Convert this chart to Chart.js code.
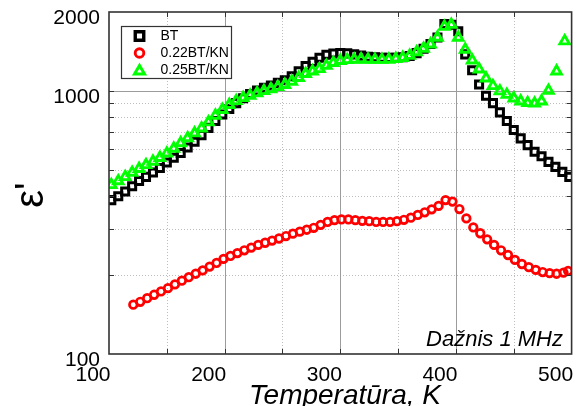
<!DOCTYPE html>
<html>
<head>
<meta charset="utf-8">
<script src="https://cdn.jsdelivr.net/npm/chart.js@4.4.1/dist/chart.umd.min.js"></script>
<style>
  html, body { margin: 0; padding: 0; background: #fff; }
  #wrap { width: 580px; height: 406px; }
</style>
</head>
<body>
<div id="wrap"><canvas id="chart" width="580" height="406"></canvas></div>
<script>
// Dielectric permittivity vs temperature, 1 MHz
const btTemp = [102,108,114,120,126,132,138,144,150,156,162,168,174,180,186,192,198,204,210,216,222,228,234,240,246,252,258,264,270,276,282,288,294,300,306,312,318,324,330,336,342,348,354,360,366,372,378,384,390,396,402,408,414,420,426,432,438,444,450,456,462,468,474,480,486,492,498];
const btEps  = [385,398,415,435,455,472,490,510,535,558,582,610,642,680,725,770,815,855,900,940,975,1005,1030,1050,1075,1100,1140,1190,1245,1292,1340,1375,1390,1395,1392,1380,1365,1352,1345,1340,1338,1340,1345,1360,1395,1450,1510,1600,1800,1790,1690,1380,1200,1060,960,900,830,770,711,661,623,588,565,538,515,493,472];

const kn22Temp = [121,127,133,139,145,151,157,163,169,175,181,187,193,199,205,211,217,223,229,235,241,247,253,259,265,271,277,283,289,295,301,307,313,319,325,331,337,343,349,355,361,367,373,379,385,391,397,403,409,415,421,427,433,439,445,451,457,463,469,475,481,487,493,497];
const kn22Eps  = [154,158,163,168,173,178,184,190,196,202,208,215,222,230,236,242,248,254,260,265,270,275,281,287,292,297,302,310,318,323,325,325,323,321,320,318,318,318,320,324,330,338,346,355,366,385,380,356,328,303,288,273,260,248,238,228,220,214,209,205,203,202,204,207];

const kn25Temp = [102,108,114,120,126,132,138,144,150,156,162,168,174,180,186,192,198,204,210,216,222,228,234,240,246,252,258,264,270,276,282,288,294,300,306,312,318,324,330,336,342,348,354,360,366,372,378,384,390,396,402,408,414,420,426,432,438,444,450,456,462,468,474,480,487,494];
const kn25Eps  = [440,455,472,490,507,524,540,558,580,605,635,663,692,722,762,808,850,888,918,943,963,983,1002,1018,1038,1058,1088,1125,1165,1190,1215,1250,1283,1305,1315,1320,1322,1320,1318,1318,1320,1328,1340,1365,1408,1452,1508,1600,1760,1790,1600,1440,1310,1212,1120,1047,1000,970,940,915,902,898,915,1005,1190,1550];

const seriesNames = ['BT', '0.22BT/KN', '0.25BT/KN'];

// axis ticks
const xTickValues = [100, 200, 300, 400, 500];
const xMajorGrid = [200, 300, 400];
const xMinorGrid = [150, 250, 350, 450];
const yTickLabels = [100, 1000, 2000];
const yMajorGrid = [1000];
const yMinorGrid = [200, 300, 400, 500, 600, 700, 800, 900];

const FONT = "'Liberation Sans', Arial, Helvetica, sans-serif";

function toPoints(xs, ys) { return xs.map((t, i) => ({ x: t, y: ys[i] })); }

function markerPath(ctx, style, cx, cy, r) {
  ctx.beginPath();
  if (style === 'rect') {
    const s = r * Math.SQRT1_2;
    ctx.rect(cx - s, cy - s, 2 * s, 2 * s);
  } else if (style === 'circle') {
    ctx.arc(cx, cy, r, 0, Math.PI * 2);
  } else {
    ctx.moveTo(cx, cy - r);
    ctx.lineTo(cx + Math.sin(2 * Math.PI / 3) * r, cy + r / 2);
    ctx.lineTo(cx - Math.sin(2 * Math.PI / 3) * r, cy + r / 2);
    ctx.closePath();
  }
}

const framePlugin = {
  id: 'frameAndGrid',
  beforeDatasetsDraw(chart) {
    const { ctx, chartArea: a, scales: { x, y } } = chart;
    ctx.save();
    ctx.lineWidth = 1;
    const vline = v => { const p = Math.round(x.getPixelForValue(v)) + 0.5; ctx.beginPath(); ctx.moveTo(p, a.top); ctx.lineTo(p, a.bottom); ctx.stroke(); };
    const hline = v => { const p = Math.round(y.getPixelForValue(v)) + 0.5; ctx.beginPath(); ctx.moveTo(a.left, p); ctx.lineTo(a.right, p); ctx.stroke(); };
    ctx.strokeStyle = '#bdbdbd';
    ctx.setLineDash([1, 2]);
    xMinorGrid.forEach(vline);
    yMinorGrid.forEach(hline);
    ctx.setLineDash([]);
    ctx.strokeStyle = '#9c9c9c';
    xMajorGrid.forEach(vline);
    yMajorGrid.forEach(hline);
    ctx.restore();
  },
  afterDraw(chart) {
    const { ctx, chartArea: a, scales: { x, y } } = chart;
    ctx.save();
    // box
    ctx.strokeStyle = '#333';
    ctx.lineWidth = 1.6;
    ctx.strokeRect(a.left, a.top, a.right - a.left, a.bottom - a.top);
    // inward tick marks
    ctx.lineWidth = 1;
    const tl = 5;
    [...xMajorGrid, ...xMinorGrid].forEach(v => {
      const p = Math.round(x.getPixelForValue(v)) + 0.5;
      ctx.beginPath();
      ctx.moveTo(p, a.bottom); ctx.lineTo(p, a.bottom - tl);
      ctx.moveTo(p, a.top); ctx.lineTo(p, a.top + tl);
      ctx.stroke();
    });
    [...yMajorGrid, ...yMinorGrid].forEach(v => {
      const p = Math.round(y.getPixelForValue(v)) + 0.5;
      ctx.beginPath();
      ctx.moveTo(a.left, p); ctx.lineTo(a.left + tl, p);
      ctx.moveTo(a.right, p); ctx.lineTo(a.right - tl, p);
      ctx.stroke();
    });

    // legend
    const lx = 121, ly = 26, lw = 110, lh = 52;
    ctx.fillStyle = '#fff';
    ctx.fillRect(lx, ly, lw, lh);
    ctx.strokeStyle = '#333';
    ctx.lineWidth = 1.2;
    ctx.strokeRect(lx + 0.5, ly + 0.5, lw, lh);
    const legendStyles = [
      { style: 'rect', color: '#000', r: 6.0, w: 3.4 },
      { style: 'circle', color: '#ff0000', r: 4.3, w: 2.9 },
      { style: 'triangle', color: '#00ff00', r: 5.8, w: 3.0 }
    ];
    const rowsY = [36, 53, 70];
    ctx.font = '14px ' + FONT;
    ctx.textBaseline = 'middle';
    ctx.textAlign = 'left';
    seriesNames.forEach((name, i) => {
      const m = legendStyles[i];
      const my = m.style === 'triangle' ? rowsY[i] + 1.2 : rowsY[i];
      markerPath(ctx, m.style, 139.5, my, m.r);
      ctx.strokeStyle = m.color;
      ctx.lineWidth = m.w;
      ctx.lineJoin = 'miter';
      ctx.stroke();
      ctx.fillStyle = '#000';
      ctx.fillText(name, 160.5, rowsY[i] + 0.5);
    });

    // frequency note
    ctx.font = 'italic 22px ' + FONT;
    ctx.textAlign = 'right';
    ctx.textBaseline = 'alphabetic';
    ctx.fillStyle = '#000';
    ctx.fillText('Dažnis 1 MHz', 563, 345.5);

    // axis titles
    ctx.font = 'italic 28px ' + FONT;
    ctx.textAlign = 'center';
    ctx.fillText('Temperatūra, K', 345, 404);

    ctx.translate(43, 195);
    ctx.rotate(-Math.PI / 2);
    ctx.font = '40px ' + FONT;
    ctx.textAlign = 'center';
    ctx.fillText("\u03B5'", 0, 0);
    ctx.restore();
  }
};

new Chart(document.getElementById('chart'), {
  type: 'scatter',
  data: {
    datasets: [
      { label: seriesNames[0], data: toPoints(btTemp, btEps), pointStyle: 'rect', pointRadius: 5.0, borderWidth: 3.0,
        borderColor: '#000', backgroundColor: 'rgba(0,0,0,0)', showLine: false, order: 2 },
      { label: seriesNames[1], data: toPoints(kn22Temp, kn22Eps), pointStyle: 'circle', pointRadius: 3.8, borderWidth: 2.7,
        borderColor: '#ff0000', backgroundColor: 'rgba(0,0,0,0)', showLine: false, order: 1 },
      { label: seriesNames[2], data: toPoints(kn25Temp, kn25Eps), pointStyle: 'triangle', pointRadius: 5.5, borderWidth: 2.9,
        borderColor: '#00ff00', backgroundColor: 'rgba(0,0,0,0)', showLine: false, order: 0 }
    ]
  },
  options: {
    responsive: false,
    animation: false,
    devicePixelRatio: 1,
    layout: { padding: { top: 12, right: 4, left: 0, bottom: 0 } },
    plugins: { legend: { display: false }, tooltip: { enabled: false } },
    elements: { point: { hoverRadius: 5 } },
    scales: {
      x: {
        type: 'linear', min: 100, max: 500,
        border: { display: false },
        grid: { display: false, drawTicks: false },
        afterBuildTicks(s) { s.ticks = xTickValues.map(v => ({ value: v })); },
        ticks: { font: { family: FONT, size: 21 }, color: '#000', padding: 9, labelOffset: -16, maxRotation: 0, autoSkip: false },
        afterFit(s) { s.height = 52; s.paddingLeft = 0; s.paddingRight = 0; }
      },
      y: {
        type: 'logarithmic', min: 100, max: 2000,
        border: { display: false },
        grid: { display: false, drawTicks: false },
        afterBuildTicks(s) { s.ticks = yTickLabels.map(v => ({ value: v })); },
        ticks: { font: { family: FONT, size: 21 }, color: '#000', padding: 9, labelOffset: 6, autoSkip: false,
                 callback: v => String(v) },
        afterFit(s) { s.width = 109; s.paddingTop = 0; s.paddingBottom = 0; }
      }
    }
  },
  plugins: [framePlugin]
});
</script>
</body>
</html>
